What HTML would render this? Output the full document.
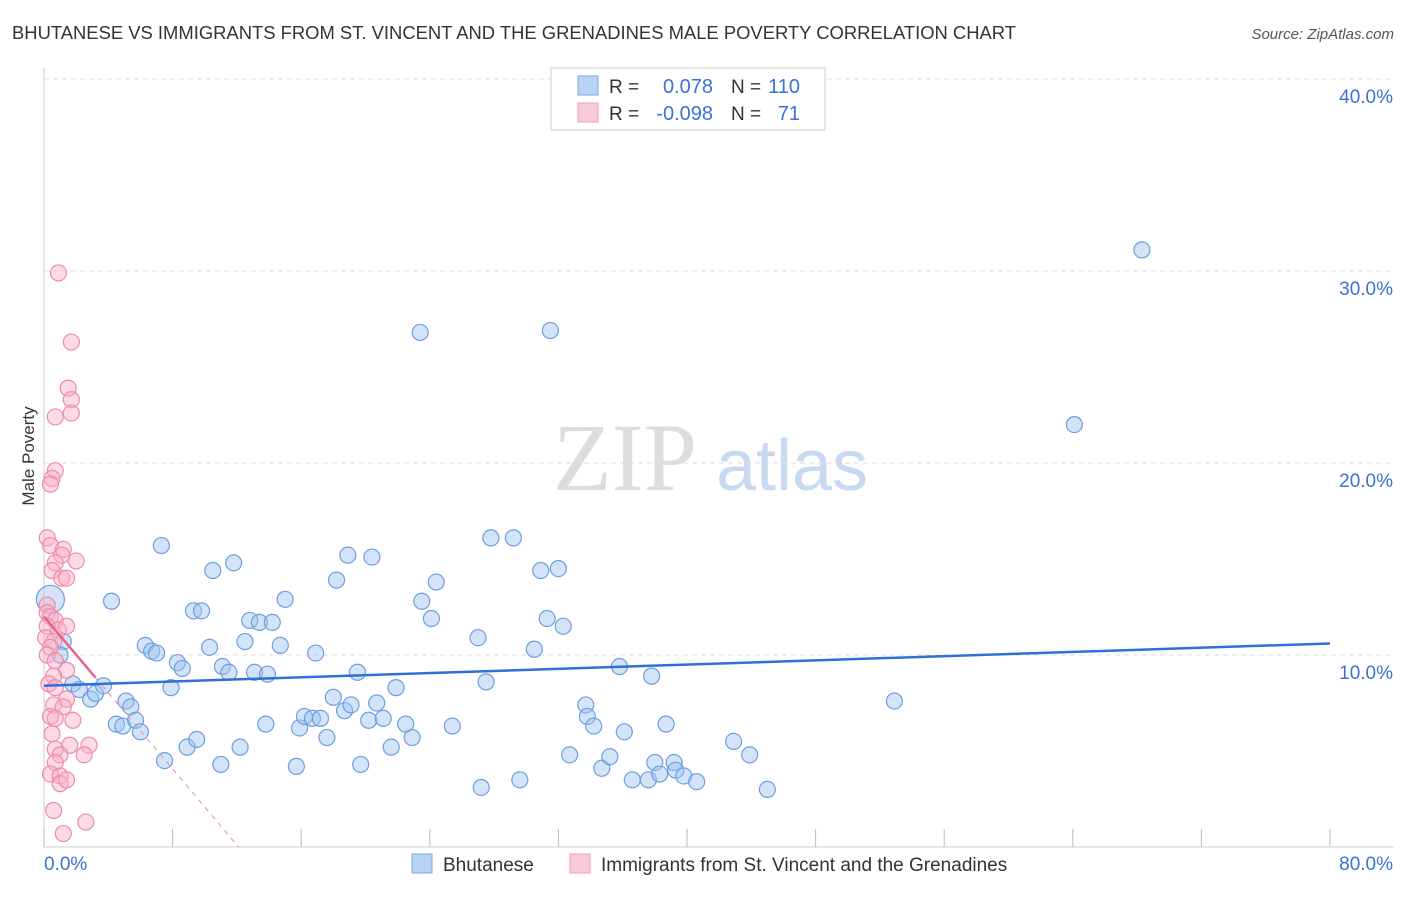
<!DOCTYPE html>
<html><head><meta charset="utf-8">
<style>
body{margin:0;background:#fff;font-family:"Liberation Sans",sans-serif;}
svg text{font-family:"Liberation Sans",sans-serif;}
</style></head>
<body>
<svg id="chart" width="1406" height="892" xmlns="http://www.w3.org/2000/svg">
<text x="12" y="39" font-size="18" fill="#333" textLength="1004" lengthAdjust="spacingAndGlyphs">BHUTANESE VS IMMIGRANTS FROM ST. VINCENT AND THE GRENADINES MALE POVERTY CORRELATION CHART</text>
<text x="1394" y="39" font-size="15" fill="#555" text-anchor="end" font-style="italic">Source: ZipAtlas.com</text>
<text transform="translate(34,456) rotate(-90)" font-size="17" fill="#333" text-anchor="middle">Male Poverty</text>
<text x="553" y="490" font-size="96" fill="#ddd" font-family="Liberation Serif" style="font-family:'Liberation Serif',serif">ZIP</text>
<text x="716" y="490" font-size="72" fill="#c8daf2">atlas</text>
<g id="grid"></g><g id="marks"></g>
<g>
<rect x="551" y="68" width="274" height="62" fill="#fff" stroke="#ccc"/>
<rect x="578" y="76" width="20" height="19" fill="#b9d3f5" stroke="#7aa7e3"/>
<rect x="578" y="103" width="20" height="19" fill="#fbcad9" stroke="#f0a0ba"/>
<text x="609" y="93" font-size="19" fill="#333">R =</text>
<text x="713" y="93" font-size="20" fill="#3a72d6" text-anchor="end">0.078</text>
<text x="731" y="93" font-size="19" fill="#333">N =</text>
<text x="800" y="93" font-size="20" fill="#3a72d6" text-anchor="end">110</text>
<text x="609" y="120" font-size="19" fill="#333">R =</text>
<text x="713" y="120" font-size="20" fill="#3a72d6" text-anchor="end">-0.098</text>
<text x="731" y="120" font-size="19" fill="#333">N =</text>
<text x="800" y="120" font-size="20" fill="#3a72d6" text-anchor="end">71</text>
</g>
<g>
<rect x="412" y="854" width="20" height="19" fill="#b9d3f5" stroke="#7aa7e3"/>
<text x="443" y="871" font-size="19" fill="#333">Bhutanese</text>
<rect x="570" y="854" width="20" height="19" fill="#fbcad9" stroke="#f0a0ba"/>
<text x="601" y="871" font-size="19" fill="#333">Immigrants from St. Vincent and the Grenadines</text>
</g>
</svg>
<script>
const yTicks=[10,20,30,40];
const xTickLabels=["0.0%","80.0%"];
const blueX=[0.4,1.2,1.0,1.8,2.2,2.9,3.2,3.7,4.2,4.5,4.9,5.1,5.4,5.7,6.0,6.3,6.7,7.0,7.3,7.5,7.9,8.3,8.6,8.9,9.5,9.3,9.8,10.3,10.5,11.0,11.1,11.5,11.8,12.2,12.5,12.8,13.1,13.4,13.8,13.9,14.2,14.7,15.0,15.7,15.9,16.2,16.7,17.2,16.9,17.6,18.0,18.2,18.7,18.9,19.1,19.5,19.7,20.2,20.4,20.7,21.1,21.6,21.9,22.5,22.9,23.4,23.5,24.1,24.4,25.4,27.0,27.2,27.5,27.8,29.2,29.6,30.5,30.9,31.3,31.5,32.0,32.3,32.7,33.7,33.8,34.2,34.7,35.2,35.8,36.1,36.6,37.6,37.8,38.0,38.3,38.7,39.2,39.3,39.8,40.6,42.9,43.9,45.0,52.9,64.1,68.3];
const blueY=[12.9,10.7,10.0,8.5,8.2,7.7,8.0,8.4,12.8,6.4,6.3,7.6,7.3,6.6,6.0,10.5,10.2,10.1,15.7,4.5,8.3,9.6,9.3,5.2,5.6,12.3,12.3,10.4,14.4,4.3,9.4,9.1,14.8,5.2,10.7,11.8,9.1,11.7,6.4,9.0,11.7,10.5,12.9,4.2,6.2,6.8,6.7,6.7,10.1,5.7,7.8,13.9,7.1,15.2,7.4,9.1,4.3,6.6,15.1,7.5,6.7,5.2,8.3,6.4,5.7,26.8,12.8,11.9,13.8,6.3,10.9,3.1,8.6,16.1,16.1,3.5,10.3,14.4,11.9,26.9,14.5,11.5,4.8,7.4,6.8,6.3,4.1,4.7,9.4,6.0,3.5,3.5,8.9,4.4,3.8,6.4,4.4,4.0,3.7,3.4,5.5,4.8,3.0,7.6,22.0,31.1];
const pinkX=[0.9,1.7,1.5,1.7,1.7,0.7,0.7,0.5,0.4,0.2,0.4,1.2,1.1,2.0,0.7,0.5,1.1,1.4,0.2,0.2,0.4,0.7,0.2,0.9,1.4,0.1,0.6,0.4,0.2,0.7,1.4,0.6,0.3,0.7,1.4,0.6,1.2,0.4,0.7,1.8,0.5,1.6,2.8,0.7,1.0,2.5,0.7,0.4,1.0,1.0,1.4,0.6,2.6,1.2];
const pinkY=[29.9,26.3,23.9,23.3,22.6,22.4,19.6,19.2,18.9,16.1,15.7,15.5,15.2,14.9,14.8,14.4,14.0,14.0,12.6,12.2,12.0,11.8,11.5,11.3,11.5,10.9,10.7,10.4,10.0,9.7,9.2,8.9,8.5,8.3,7.7,7.4,7.3,6.8,6.7,6.6,5.9,5.3,5.3,5.1,4.8,4.8,4.4,3.8,3.7,3.3,3.5,1.9,1.3,0.7];
const blueTrend=[8.4,10.6];
const pinkTrend=[12.0,0.0];
const pinkTrendX=[0,3.2,12.1];
const NS="http://www.w3.org/2000/svg";
const X=v=>44+v*(1330-44)/80, Y=v=>847-v*19.2;
const grid=document.getElementById('grid'), marks=document.getElementById('marks');
function mk(tag,at,parent){const e=document.createElementNS(NS,tag);for(const k in at)e.setAttribute(k,at[k]);parent.appendChild(e);return e;}
let ax=mk('line',{x1:44,y1:68,x2:44,y2:847,stroke:'#ccc'},grid);


let bx=mk('line',{x1:44,y1:847,x2:1394,y2:847,stroke:'#ccc'},grid);


yTicks.forEach(t=>{
 let g=mk('line',{x1:44,y1:Y(t),x2:1394,y2:Y(t),stroke:'#ddd','stroke-dasharray':'5,4'},grid);
 
 
 let l=mk('text',{x:1393,y:Y(t)+24,'font-size':19,fill:'#3a72d6','text-anchor':'end'},grid);l.textContent=t.toFixed(1)+'%';
 
 
});
for(let i=0;i<=10;i++){let t=mk('line',{x1:X(i*8),y1:829,x2:X(i*8),y2:847,stroke:'#bbb'},grid);
 
 }
let l0=mk('text',{x:44,y:870,'font-size':19,fill:'#3a72d6'},grid);l0.textContent=xTickLabels[0];


let l1=mk('text',{x:1393,y:870,'font-size':19,fill:'#3a72d6','text-anchor':'end'},grid);l1.textContent=xTickLabels[1];


blueX.forEach((v,i)=>{let c=mk('circle',{cx:X(v),cy:Y(blueY[i]),r:i==0?14:8,fill:'rgba(160,195,240,0.45)',stroke:'#6c9ee0','stroke-width':1.2},marks);
 
 });
pinkX.forEach((v,i)=>{let c=mk('circle',{cx:X(v),cy:Y(pinkY[i]),r:8,fill:'rgba(248,175,200,0.45)',stroke:'#ec8cab','stroke-width':1.2},marks);
 
 });
const pY=x=>pinkTrend[0]+(pinkTrend[1]-pinkTrend[0])*x/pinkTrendX[2];
let pd=mk('line',{x1:X(pinkTrendX[1]),y1:Y(pY(pinkTrendX[1])),x2:X(pinkTrendX[2]),y2:Y(pY(pinkTrendX[2])),stroke:'#e88aa8','stroke-dasharray':'5,5','stroke-width':1},marks);


let pl=mk('line',{x1:X(0),y1:Y(pY(0)),x2:X(pinkTrendX[1]),y2:Y(pY(pinkTrendX[1])),stroke:'#e8628e','stroke-width':2.5},marks);


let bl=mk('line',{x1:X(0),y1:Y(blueTrend[0]),x2:X(80),y2:Y(blueTrend[1]),stroke:'#2f6fd6','stroke-width':2.5},marks);


</script>
</body></html>
